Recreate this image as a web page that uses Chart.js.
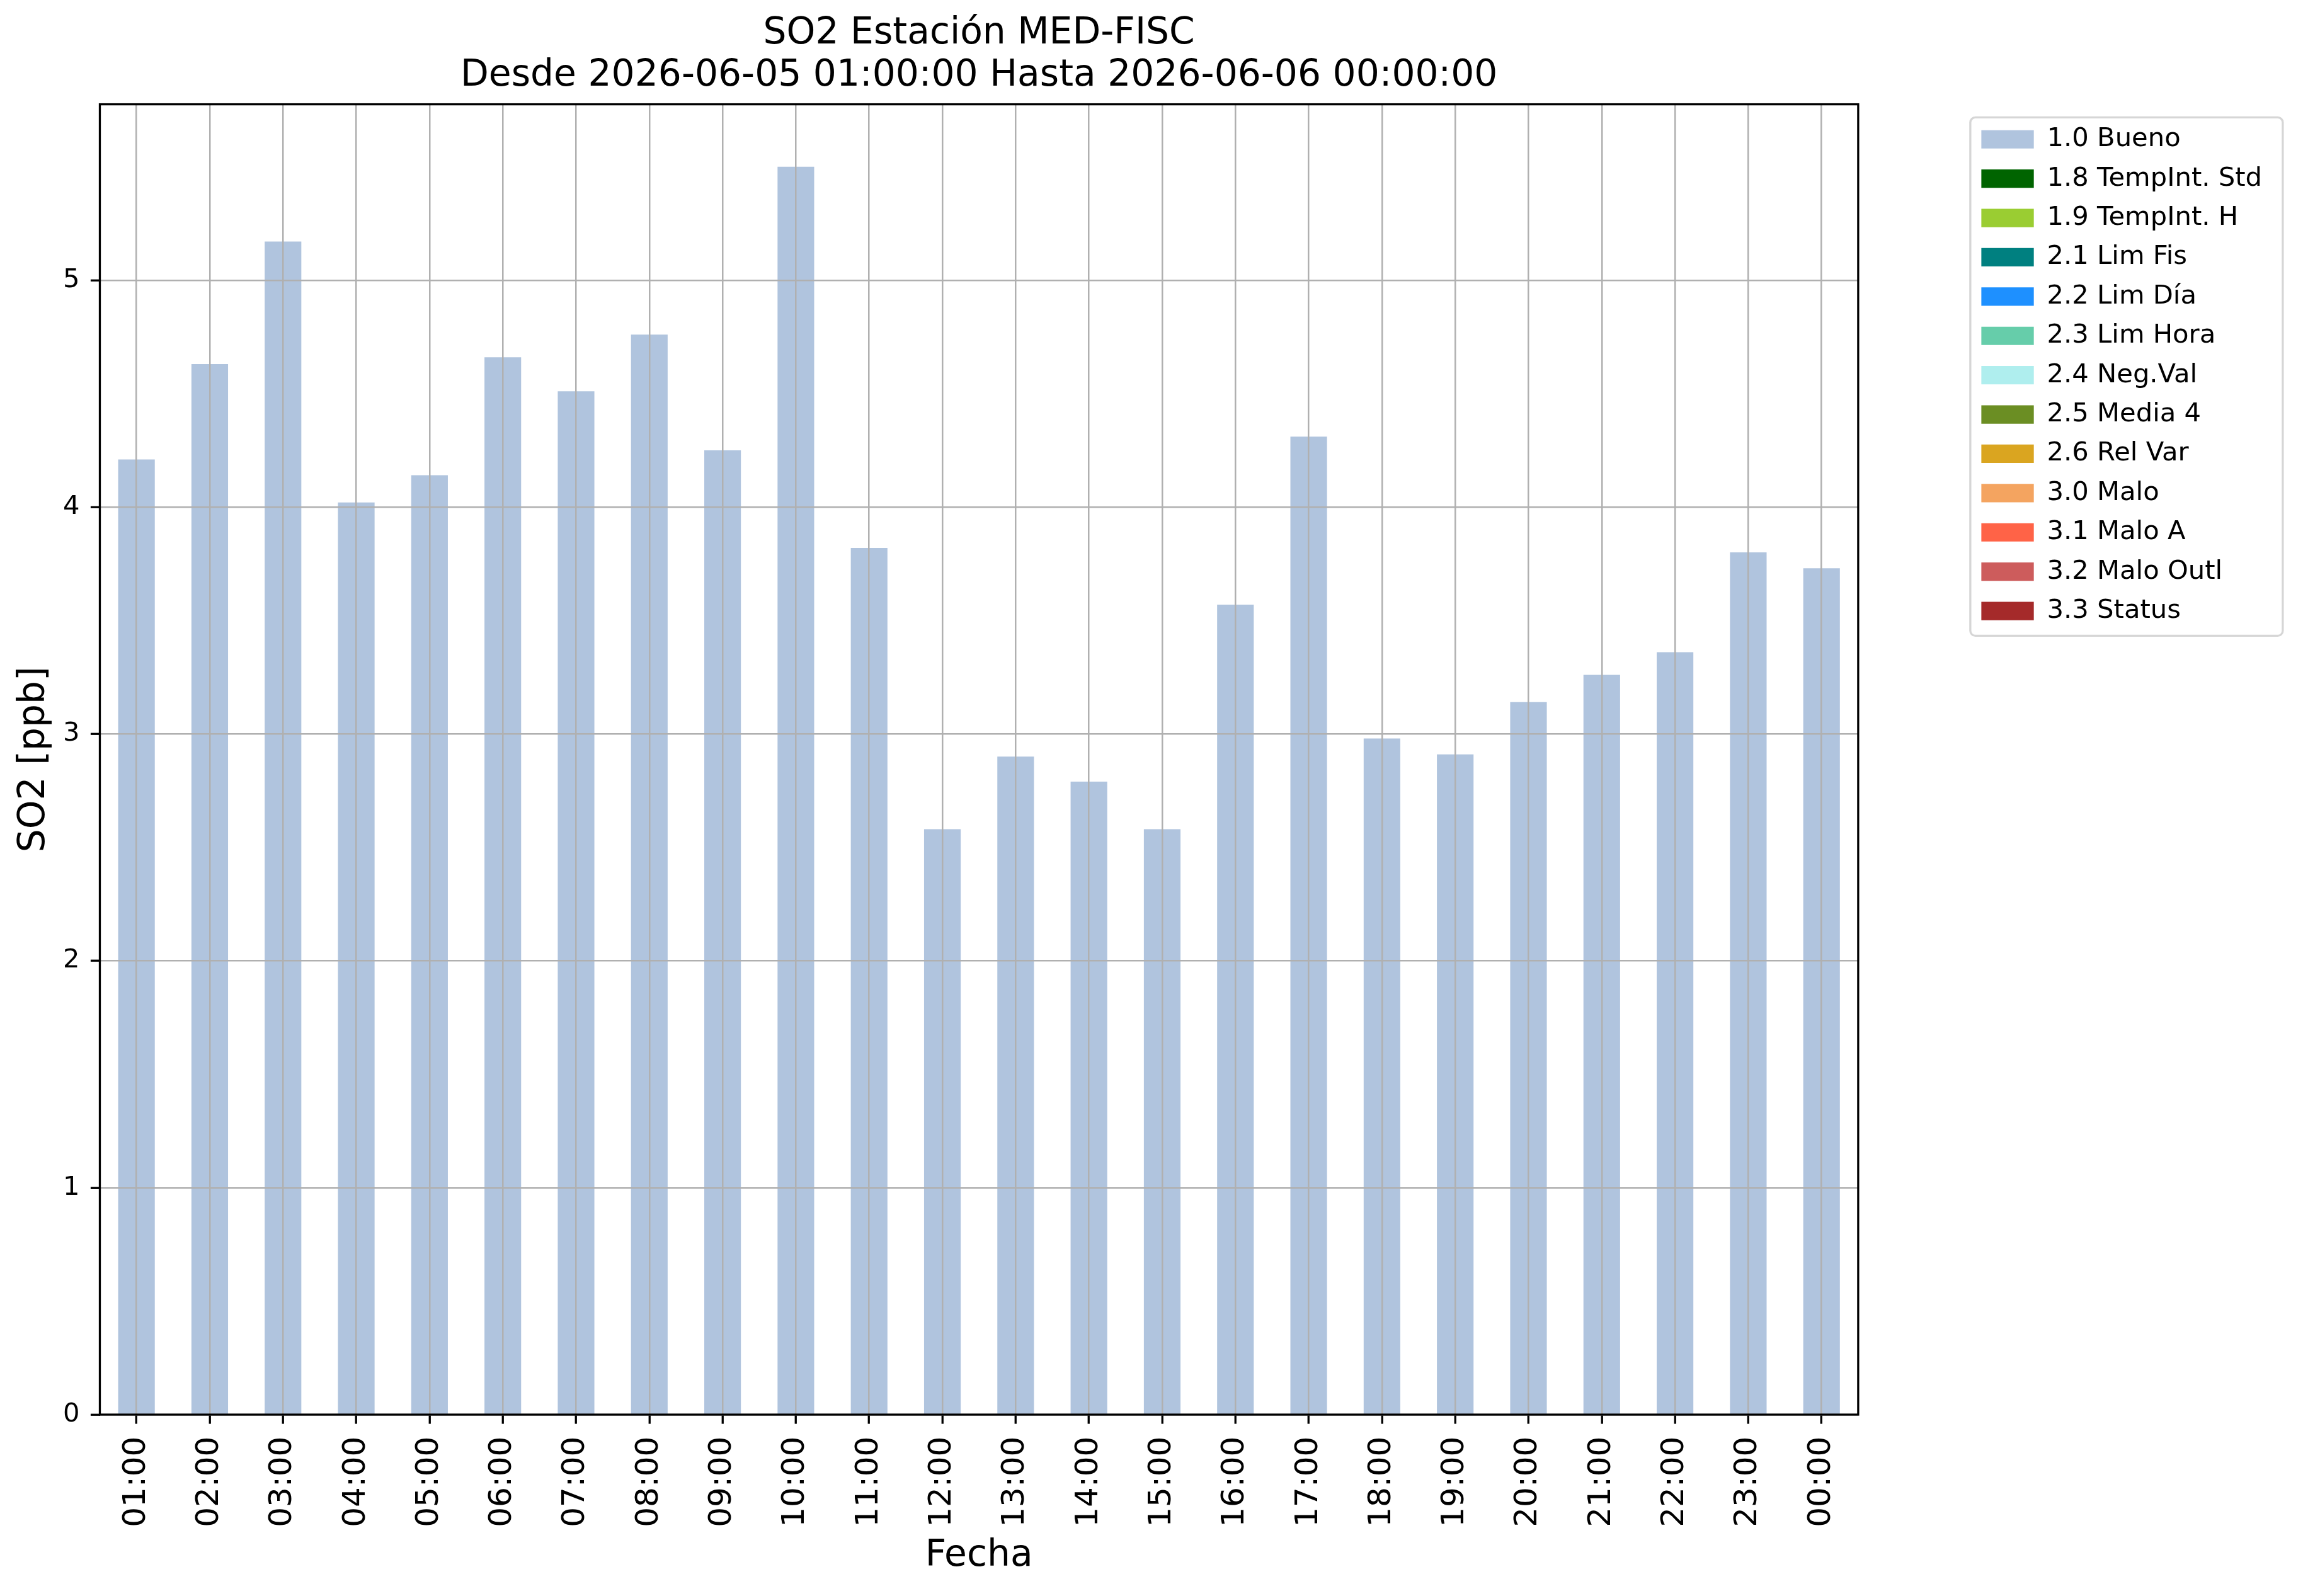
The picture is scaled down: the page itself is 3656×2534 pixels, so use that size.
<!DOCTYPE html>
<html>
<head>
<meta charset="utf-8">
<script src="https://cdn.jsdelivr.net/npm/chart.js@4.4.1/dist/chart.umd.min.js"></script>
<style>
  html, body { margin: 0; padding: 0; background: #ffffff; }
  canvas { display: block; }
</style>
</head>
<body>
<canvas id="so2_chart" width="3656" height="2534" style="width:3656px;height:2534px"></canvas>
<script>
// data set
var hours = ['01:00', '02:00', '03:00', '04:00', '05:00', '06:00', '07:00', '08:00',
  '09:00', '10:00', '11:00', '12:00', '13:00', '14:00', '15:00', '16:00',
  '17:00', '18:00', '19:00', '20:00', '21:00', '22:00', '23:00', '00:00'];
var so2_bueno = [4.21, 4.63, 5.17, 4.02, 4.14, 4.66, 4.51, 4.76,
  4.25, 5.50, 3.82, 2.58, 2.90, 2.79, 2.58, 3.57,
  4.31, 2.98, 2.91, 3.14, 3.26, 3.36, 3.80, 3.73];
var flag_names = ['1.0 Bueno', '1.8 TempInt. Std', '1.9 TempInt. H', '2.1 Lim Fis',
  '2.2 Lim Día', '2.3 Lim Hora', '2.4 Neg.Val', '2.5 Media 4', '2.6 Rel Var',
  '3.0 Malo', '3.1 Malo A', '3.2 Malo Outl', '3.3 Status'];
var flag_colors = ['#b0c4de', '#006400', '#9acd32', '#008080', '#1e90ff', '#66cdaa',
  '#afeeee', '#6b8e23', '#daa520', '#f4a460', '#ff6347', '#cd5c5c', '#a52a2a'];
var y_ticks = [0, 1, 2, 3, 4, 5];

// only "Bueno" has values in this period, the other flags are empty
var flag_values = [so2_bueno, [], [], [], [], [], [], [], [], [], [], [], []];

const FONT = 'DejaVu Sans';
const LW = 3.3;

// frame round the plot + legend box (matplotlib look)
const framePlugin = {
  id: 'frame',
  afterDraw(chart) {
    const ctx = chart.ctx;
    const a = chart.chartArea;
    ctx.save();
    ctx.strokeStyle = '#000000';
    ctx.lineWidth = LW;
    ctx.strokeRect(a.left, a.top, a.right - a.left, a.bottom - a.top);

    const boxes = chart.legend.legendHitBoxes;
    if (boxes && boxes.length) {
      const first = boxes[0];
      const last = boxes[boxes.length - 1];
      const x0 = first.left - 17.5;
      const y0 = first.top - 14;
      const x1 = x0 + 496;
      const y1 = last.top + last.height + 18.5;
      ctx.strokeStyle = 'rgba(204,204,204,0.8)';
      ctx.lineWidth = 3.3;
      ctx.beginPath();
      ctx.roundRect(x0, y0, x1 - x0, y1 - y0, 8);
      ctx.stroke();
    }
    ctx.restore();
  }
};

new Chart('so2_chart', {
  type: 'bar',
  data: {
    labels: hours,
    datasets: flag_names.map((name, i) => ({
      label: name,
      data: flag_values[i],
      backgroundColor: flag_colors[i],
      borderWidth: 0,
      categoryPercentage: 1.0,
      barPercentage: 0.5
    }))
  },
  options: {
    responsive: false,
    devicePixelRatio: 1,
    animation: false,
    layout: { padding: { left: 0, right: 55, top: 0, bottom: 0 } },
    plugins: {
      title: {
        display: true,
        fullSize: false,
        text: ['SO2 Estación MED-FISC', 'Desde 2026-06-05 01:00:00 Hasta 2026-06-06 00:00:00'],
        color: '#000000',
        font: { family: FONT, size: 58.3, weight: 'normal', lineHeight: 1.14 },
        padding: { top: 20.75, bottom: 11.95 }
      },
      legend: {
        display: true,
        position: 'right',
        align: 'start',
        fullSize: false,
        title: { display: true, text: '', font: { size: 11.75, lineHeight: 1.2 }, padding: 0 },
        labels: {
          color: '#000000',
          font: { family: FONT, size: 41.7 },
          boxWidth: 83.3,
          boxHeight: 29.2,
          padding: 20.7
        }
      },
      tooltip: { enabled: false }
    },
    scales: {
      x: {
        stacked: true,
        offset: true,
        afterFit: s => { s.height = 288; },
        grid: {
          display: true,
          z: 1,
          offset: false,
          color: '#b0b0b0',
          lineWidth: 2.5,
          drawTicks: true,
          tickLength: 14.6,
          tickColor: '#000000',
          tickWidth: LW
        },
        border: { display: false },
        ticks: {
          autoSkip: false,
          maxRotation: 90,
          minRotation: 90,
          padding: 20,
          color: '#000000',
          font: { family: FONT, size: 50 }
        },
        title: {
          display: true,
          text: 'Fecha',
          color: '#000000',
          font: { family: FONT, size: 58.3, lineHeight: 1.2 },
          padding: { top: 0, bottom: 28 }
        }
      },
      y: {
        stacked: true,
        min: 0,
        max: 5.775,
        afterFit: s => { s.width = 158.5; },
        afterBuildTicks: s => { s.ticks = y_ticks.map(v => ({ value: v })); },
        grid: {
          display: true,
          z: 1,
          color: '#b0b0b0',
          lineWidth: 2.5,
          drawTicks: true,
          tickLength: 14.6,
          tickColor: '#000000',
          tickWidth: LW
        },
        border: { display: false },
        ticks: {
          padding: 17.5,
          color: '#000000',
          font: { family: FONT, size: 41.7 }
        },
        title: {
          display: true,
          text: 'SO2 [ppb]',
          color: '#000000',
          font: { family: FONT, size: 58.3, lineHeight: 1.2 },
          padding: { top: 20, bottom: 0 }
        }
      },
      gap: {
        type: 'linear',
        axis: 'y',
        position: 'right',
        display: true,
        afterFit: s => { s.width = 174.8; },
        grid: { display: false, drawTicks: false },
        border: { display: false },
        ticks: { display: false },
        title: { display: false }
      }
    }
  },
  plugins: [framePlugin]
});
</script>
</body>
</html>
